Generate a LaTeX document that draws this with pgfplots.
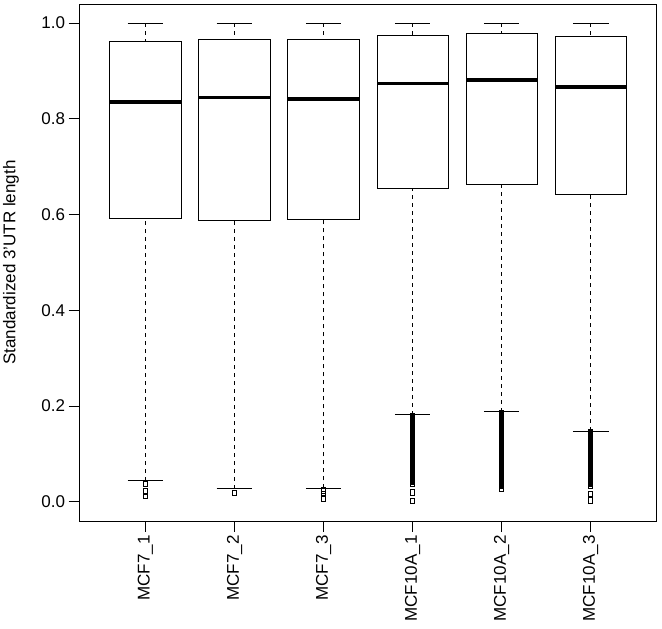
\documentclass[border=0pt]{standalone}
\usepackage{pgfplots}
\pgfplotsset{compat=1.18}
\usepgfplotslibrary{statistics}
\usepackage{fontspec}
\setmainfont{Liberation Sans}
\begin{document}
\begin{tikzpicture}
\useasboundingbox (-79.6pt,-108pt) rectangle (582.4pt,521pt);
\begin{axis}[
  at={(0pt,0pt)}, anchor=south west,
  scale only axis, width=577pt, height=517pt,
  xmin=0.26, xmax=6.74, ymin=-0.04, ymax=1.04,
  xtick={1,2,3,4,5,6},
  xticklabels={MCF7\_1,MCF7\_2,MCF7\_3,MCF10A\_1,MCF10A\_2,MCF10A\_3},
  ytick={0,0.2,0.4,0.6,0.8,1},
  yticklabel style={/pgf/number format/.cd, fixed, fixed zerofill, precision=1, assume math mode=true},
  xticklabel style={rotate=90, anchor=east},
  xtick pos=bottom, ytick pos=left,
  tick align=outside, major tick length=11pt,
  every tick/.style={black, line width=0.9pt},
  axis line style={black, line width=0.9pt},
  font=\fontsize{17}{20}\selectfont,
  ylabel={Standardized 3'UTR length},
  ylabel style={at={(axis description cs:-0.119,0.5)}, anchor=center},
  boxplot/draw direction=y,
  boxplot/box extend=0.8,
  boxplot/draw/median/.code={%
    \draw[line width=3.8pt] (boxplot box cs:\pgfplotsboxplotvalue{median},0) -- (boxplot box cs:\pgfplotsboxplotvalue{median},1);},
  boxplot/draw/lower whisker/.code={%
    \draw[dash pattern=on 4pt off 4pt] (boxplot box cs:\pgfplotsboxplotvalue{lower whisker},0.5) -- (boxplot box cs:\pgfplotsboxplotvalue{lower quartile},0.5);
    \draw[solid] (boxplot box cs:\pgfplotsboxplotvalue{lower whisker},0.25) -- (boxplot box cs:\pgfplotsboxplotvalue{lower whisker},0.75);},
  boxplot/draw/upper whisker/.code={%
    \draw[dash pattern=on 4pt off 4pt] (boxplot box cs:\pgfplotsboxplotvalue{upper whisker},0.5) -- (boxplot box cs:\pgfplotsboxplotvalue{upper quartile},0.5);
    \draw[solid] (boxplot box cs:\pgfplotsboxplotvalue{upper whisker},0.25) -- (boxplot box cs:\pgfplotsboxplotvalue{upper whisker},0.75);},
  every axis plot/.append style={black, line width=1pt, mark size=2.1pt, mark options={solid, line width=0.9pt, yscale=1.3}},
]
% MCF7_1
\addplot[mark=square, boxplot prepared={draw position=1, lower whisker=0.044, lower quartile=0.5925, median=0.836, upper quartile=0.9616, upper whisker=1.0}]
  coordinates {(0,0.037) (0,0.022) (0,0.012)};
% MCF7_2
\addplot[mark=square, boxplot prepared={draw position=2, lower whisker=0.0274, lower quartile=0.588, median=0.8445, upper quartile=0.9657, upper whisker=1.0}]
  coordinates {(0,0.019)};
% MCF7_3
\addplot[mark=square, boxplot prepared={draw position=3, lower whisker=0.028, lower quartile=0.589, median=0.8418, upper quartile=0.9657, upper whisker=1.0}]
  coordinates {(0,0.024) (0,0.016) (0,0.007)};
% MCF10A_1
\addplot[mark=square*, boxplot prepared={draw position=4, lower whisker=0.182, lower quartile=0.655, median=0.8738, upper quartile=0.9735, upper whisker=1.0}]
  coordinates {(0,0.180) (0,0.177) (0,0.174) (0,0.171) (0,0.168) (0,0.165) (0,0.162) (0,0.159) (0,0.156) (0,0.153) (0,0.150) (0,0.147) (0,0.144) (0,0.141) (0,0.138) (0,0.135) (0,0.132) (0,0.129) (0,0.126) (0,0.123) (0,0.120) (0,0.117) (0,0.114) (0,0.111) (0,0.108) (0,0.105) (0,0.102) (0,0.099) (0,0.096) (0,0.093) (0,0.090) (0,0.087) (0,0.084) (0,0.081) (0,0.078) (0,0.075) (0,0.072) (0,0.069) (0,0.066) (0,0.063) (0,0.060) (0,0.057) (0,0.054) (0,0.051) (0,0.048) (0,0.045) (0,0.042)};
\addplot[only marks, mark=square] coordinates {(4,0.038) (4,0.020) (4,0.002)};
% MCF10A_2
\addplot[mark=square*, boxplot prepared={draw position=5, lower whisker=0.188, lower quartile=0.662, median=0.882, upper quartile=0.978, upper whisker=1.0}]
  coordinates {(0,0.186) (0,0.183) (0,0.180) (0,0.177) (0,0.174) (0,0.171) (0,0.168) (0,0.165) (0,0.162) (0,0.159) (0,0.156) (0,0.153) (0,0.150) (0,0.147) (0,0.144) (0,0.141) (0,0.138) (0,0.135) (0,0.132) (0,0.129) (0,0.126) (0,0.123) (0,0.120) (0,0.117) (0,0.114) (0,0.111) (0,0.108) (0,0.105) (0,0.102) (0,0.099) (0,0.096) (0,0.093) (0,0.090) (0,0.087) (0,0.084) (0,0.081) (0,0.078) (0,0.075) (0,0.072) (0,0.069) (0,0.066) (0,0.063) (0,0.060) (0,0.057) (0,0.054) (0,0.051) (0,0.048) (0,0.045) (0,0.042) (0,0.039) (0,0.036) (0,0.033)};
\addplot[only marks, mark=square] coordinates {(5,0.028)};
% MCF10A_3
\addplot[mark=square*, boxplot prepared={draw position=6, lower whisker=0.148, lower quartile=0.6426, median=0.866, upper quartile=0.9714, upper whisker=1.0}]
  coordinates {(0,0.146) (0,0.143) (0,0.140) (0,0.137) (0,0.134) (0,0.131) (0,0.128) (0,0.125) (0,0.122) (0,0.119) (0,0.116) (0,0.113) (0,0.110) (0,0.107) (0,0.104) (0,0.101) (0,0.098) (0,0.095) (0,0.092) (0,0.089) (0,0.086) (0,0.083) (0,0.080) (0,0.077) (0,0.074) (0,0.071) (0,0.068) (0,0.065) (0,0.062) (0,0.059) (0,0.056) (0,0.053) (0,0.050) (0,0.047) (0,0.044) (0,0.041) (0,0.038)};
\addplot[only marks, mark=square] coordinates {(6,0.034) (6,0.017) (6,0.003)};
\end{axis}
\end{tikzpicture}
\end{document}
